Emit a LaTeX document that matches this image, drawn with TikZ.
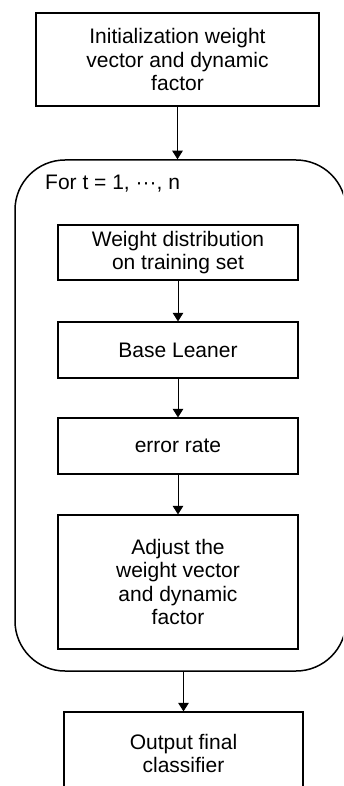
\documentclass[tikz,border=0pt]{standalone}
\usepackage{fontspec}
\setmainfont{Liberation Sans}
\usetikzlibrary{arrows.meta}
\begin{document}
\begin{tikzpicture}[x=1pt,y=-1pt,
  box/.style={draw=black,line width=1.2pt,rectangle,inner sep=0pt,align=center,
    font=\fontsize{21}{23.5}\selectfont},
  loopbox/.style={draw=black,line width=1.5pt,rectangle,rounded corners=50pt,inner sep=0pt},
  arr/.style={draw=black,line width=0.9pt,-{Triangle[length=8.5pt,width=10.5pt]}},
  lbl/.style={inner sep=0pt,font=\fontsize{21}{23.5}\selectfont}]
\useasboundingbox (0,0) rectangle (343,786);
\clip (0,0) rectangle (343,786);
\node[box,minimum width=283pt,minimum height=93pt] (init) at (177.5,59.5)
  {Initialization weight\\vector and dynamic\\factor};
\node[loopbox,minimum width=331pt,minimum height=511pt] (loop) at (180.5,415.5) {};
\node[lbl,anchor=base west] (fort) at (45,190) {For t = 1, ···, n};
\node[box,minimum width=240pt,minimum height=55pt] (wd) at (178,252.5)
  {Weight distribution\\on training set};
\node[box,minimum width=240pt,minimum height=56pt] (bl) at (178,350) {Base Leaner};
\node[box,minimum width=240pt,minimum height=56pt] (er) at (178,446) {error rate};
\node[box,minimum width=240pt,minimum height=134pt] (adj) at (178,582)
  {Adjust the\\weight vector\\and dynamic\\factor};
\node[box,minimum width=239pt,minimum height=83pt] (out) at (183.5,753.5)
  {Output final\\classifier};
\draw[arr] (init.south) -- (init.south |- loop.north);
\draw[arr] (wd) -- (bl);
\draw[arr] (bl) -- (er);
\draw[arr] (er) -- (adj);
\draw[arr] (out.north |- loop.south) -- (out.north);
\end{tikzpicture}
\end{document}
